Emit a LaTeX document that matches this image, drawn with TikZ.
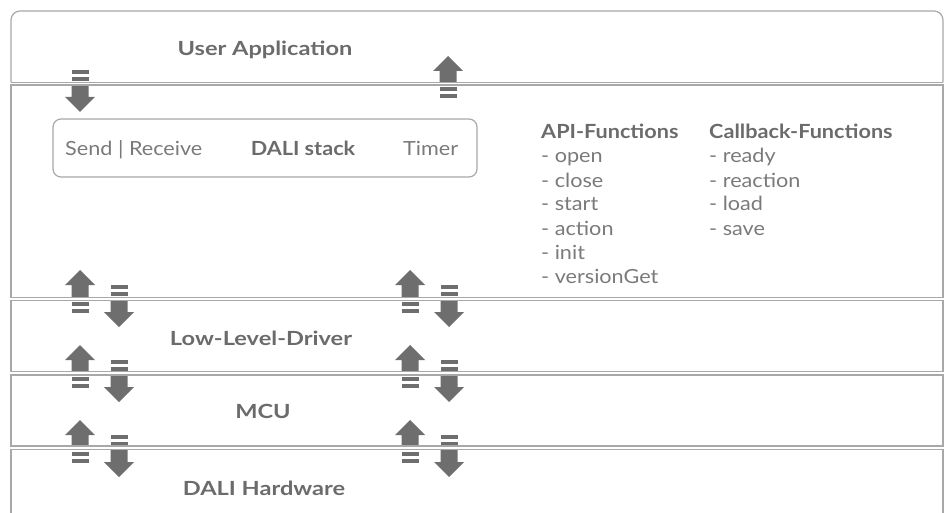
\documentclass[tikz,border=0pt]{standalone}
\usepackage{fontspec}
\setmainfont{Lato}
\newfontfamily\widelato[FakeStretch=1.21]{Lato}
\newfontfamily\medlato[FakeStretch=1.11]{Lato}
\definecolor{linegray}{HTML}{A8A8A8}
\definecolor{arrowgray}{HTML}{6E6E6E}
\definecolor{txtbold}{HTML}{6B6B6B}
\definecolor{txtreg}{HTML}{7A7A7A}
\tikzset{
  layerbox/.style={draw=linegray, line width=1.2pt},
  titletext/.style={font=\widelato\fontsize{19.5}{24}\selectfont\bfseries, text=txtbold, inner sep=0pt, anchor=base},
  stacktitle/.style={font=\medlato\fontsize{19.5}{24}\selectfont\bfseries, text=txtbold, inner sep=0pt, anchor=base},
  regtext/.style={font=\medlato\fontsize{19.5}{24}\selectfont, text=txtreg, inner sep=0pt, anchor=base west},
  listhead/.style={font=\medlato\fontsize{19.5}{24}\selectfont\bfseries, text=txtbold, inner sep=0pt, anchor=base west},
  uparr/.pic={
    \fill[arrowgray] (0,0) -- (15,15) -- (8.5,15) -- (8.5,29) -- (-8.5,29) -- (-8.5,15) -- (-15,15) -- cycle;
    \fill[arrowgray] (-8.5,31.5) rectangle (8.5,35.5);
    \fill[arrowgray] (-8.5,38.5) rectangle (8.5,42.5);
  },
  downarr/.pic={
    \fill[arrowgray] (-8.5,0) rectangle (8.5,4);
    \fill[arrowgray] (-8.5,7) rectangle (8.5,11);
    \fill[arrowgray] (-8.5,13.5) -- (8.5,13.5) -- (8.5,27) -- (15,27) -- (0,42) -- (-15,27) -- (-8.5,27) -- cycle;
  }
}
\begin{document}
\begin{tikzpicture}[x=1pt,y=-1pt]
\useasboundingbox (0,0) rectangle (947,513);
% arrows
\pic at (80,70) {downarr};
\pic at (448,56) {uparr};
\foreach \dy in {0,75,150} {
  \pic at (80,270+\dy) {uparr};
  \pic at (119,285+\dy) {downarr};
  \pic at (410,270+\dy) {uparr};
  \pic at (449,285+\dy) {downarr};
}
% gaps between layers
\fill[white] (11,82.5) rectangle (943,85);
\fill[white] (11,297.5) rectangle (943,300.5);
\fill[white] (11,371.5) rectangle (943,375);
\fill[white] (11,446) rectangle (943,449.5);
% layer boxes
\draw[layerbox, rounded corners=9pt] (11,82.5) -- (11,11) -- (943,11) -- (943,82.5);
\draw[layerbox] (11,82.5) -- (943,82.5);
\draw[layerbox] (11,85) rectangle (943,297.5);
\draw[layerbox] (11,300.5) rectangle (943,371.5);
\draw[layerbox] (11,375) rectangle (943,446);
\draw[layerbox] (11,514) -- (11,449.5) -- (943,449.5) -- (943,514);
% DALI stack box
\node[draw=linegray, line width=1.2pt, rounded corners=8pt, minimum width=424pt, minimum height=58pt, inner sep=0pt] (stack) at (265,148) {};
\node[regtext] (send) at (65,156) {Send | Receive};
\node[stacktitle] (dali) at (303,156) {DALI stack};
\node[regtext] (timer) at (403,156) {Timer};
% layer titles
\node[titletext] (ua) at (265,56) {User Application};
\node[titletext] (lld) at (261,345) {Low-Level-Driver};
\node[titletext] (mcu) at (263,418) {MCU};
\node[titletext] (hw) at (264,495) {DALI Hardware};
% function lists
\node[listhead] (api) at (541,139) {API-Functions};
\node[listhead] (cb) at (709,139) {Callback-Functions};
\foreach \t [count=\i] in {open,close,start,action,init,versionGet} {
  \node[regtext] (api\i) at (541,139+24*\i) {- \t};
}
\foreach \t [count=\i] in {ready,reaction,load,save} {
  \node[regtext] (cb\i) at (709,139+24*\i) {- \t};
}
\end{tikzpicture}
\end{document}
